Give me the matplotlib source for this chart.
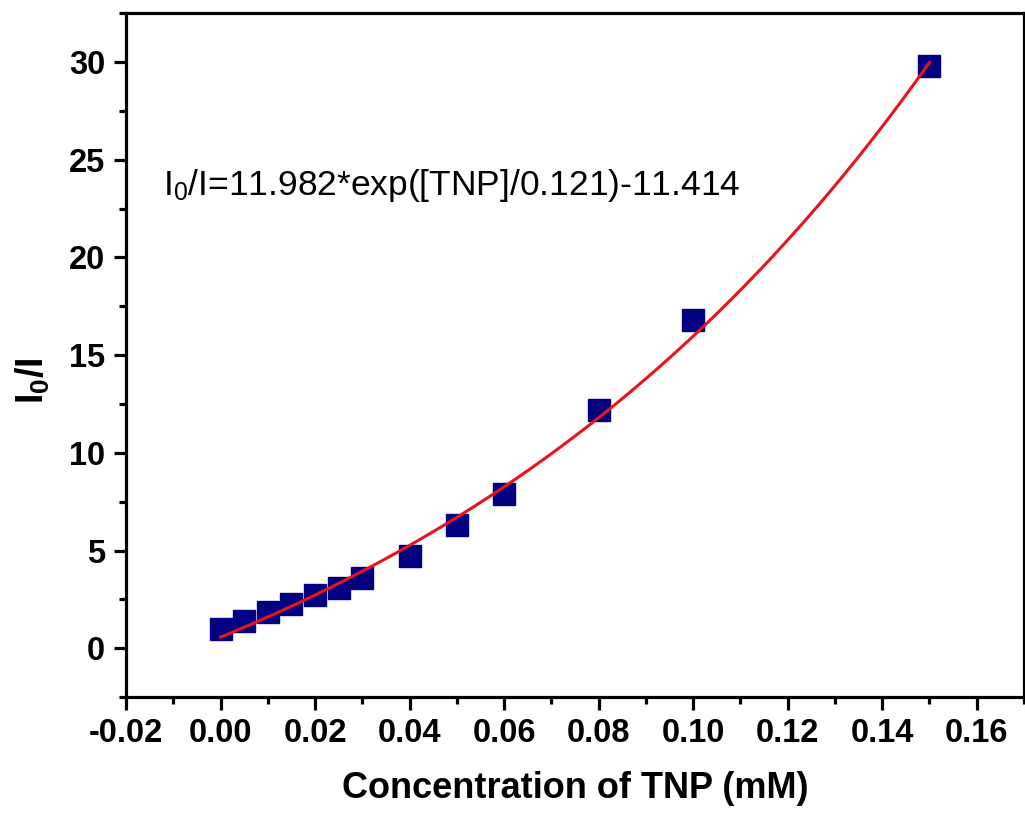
import numpy as np
import matplotlib
matplotlib.use("Agg")
import matplotlib.pyplot as plt
from matplotlib.ticker import MultipleLocator

plt.rcParams["font.family"] = ["Liberation Sans", "DejaVu Sans"]
plt.rcParams["mathtext.default"] = "regular"

# data
conc = [0.0, 0.005, 0.01, 0.015, 0.02, 0.025, 0.03, 0.04, 0.05, 0.06, 0.08, 0.10, 0.15]
ratio = [1.0, 1.4, 1.85, 2.25, 2.7, 3.1, 3.6, 4.7, 6.3, 7.9, 12.2, 16.8, 29.8]

# exponential fit given on the chart
fit_a = 11.982
fit_t = 0.121
fit_c = -11.414

xfit = np.linspace(0, 0.15, 200)
yfit = fit_a * np.exp(xfit / fit_t) + fit_c

fig = plt.figure(figsize=(10.25, 8.22), dpi=100)
ax = fig.add_axes([0.123, 0.152, 0.876, 0.832])

ax.plot(conc, ratio, "s", color="#000080", markersize=15.5, zorder=2)
ax.plot(xfit, yfit, color="#e8141c", linewidth=2.2, zorder=3)

ax.set_xlim(-0.02, 0.17)
ax.set_ylim(-2.5, 32.5)
ax.xaxis.set_minor_locator(MultipleLocator(0.01))
ax.yaxis.set_major_locator(MultipleLocator(5))
ax.yaxis.set_minor_locator(MultipleLocator(2.5))
xt = np.arange(-0.02, 0.161, 0.02)
ax.set_xticks(xt)
ax.set_xticklabels(["%.2f" % v for v in xt])

ax.tick_params(which="major", direction="out", length=9, width=2.3, labelsize=23.5, pad=6)
ax.tick_params(which="minor", direction="out", length=5, width=2.3)
for lab in ax.get_xticklabels() + ax.get_yticklabels():
    lab.set_fontweight("bold")
for sp in ax.spines.values():
    sp.set_linewidth(2.3)

ax.set_xlabel("Concentration of TNP (mM)", fontsize=26, fontweight="bold", labelpad=16)
ax.set_ylabel("I$_0$/I", fontsize=27, fontweight="bold")
ax.yaxis.set_label_coords(-0.083, 0.462)

ax.text(-0.0122, 23.2, "I$_0$/I=11.982*exp([TNP]/0.121)-11.414", fontsize=25.5, va="baseline", ha="left")

fig.savefig("out.png", dpi=100)
